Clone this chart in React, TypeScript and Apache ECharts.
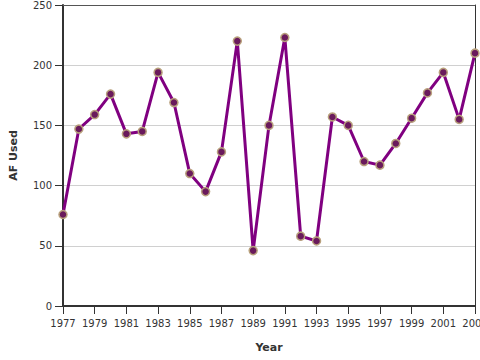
import React, { useEffect, useRef } from "react";
import * as echarts from "echarts";

const years = [1977, 1978, 1979, 1980, 1981, 1982, 1983, 1984, 1985, 1986, 1987, 1988, 1989, 1990, 1991, 1992, 1993, 1994, 1995, 1996, 1997, 1998, 1999, 2000, 2001, 2002, 2003];
const afUsed = [76, 147, 159, 176, 143, 145, 194, 169, 110, 95, 128, 220, 46, 150, 223, 58, 54, 157, 150, 120, 117, 135, 156, 177, 194, 155, 210];

export default function App() {
  const ref = useRef<HTMLDivElement>(null);
  useEffect(() => {
    document.body.style.margin = "0";
    const chart = echarts.init(ref.current!, null, { renderer: "svg" });
    const font = "DejaVu Sans";
    chart.setOption({
      animation: false,
      grid: { left: 63, right: 5, top: 5, bottom: 54, containLabel: false, outerBoundsMode: "none" },
      xAxis: [
        {
          type: "value",
          min: 1977,
          max: 2003,
          interval: 2,
          name: "Year",
          nameLocation: "middle",
          nameGap: 36,
          nameTextStyle: { fontFamily: font, fontSize: 11, fontWeight: "bold", color: "#333" },
          axisLine: { show: true, onZero: false, lineStyle: { color: "#333", width: 2 } },
          axisTick: { show: true, length: 8, lineStyle: { color: "#333", width: 1 } },
          axisLabel: {
            fontFamily: font,
            fontSize: 10,
            color: "#333",
            margin: 12,
            showMaxLabel: true,
            hideOverlap: false,
            formatter: (v: number) => String(v),
          },
          splitLine: { show: false },
        },
        {
          type: "value",
          position: "top",
          min: 1977,
          max: 2003,
          interval: 2,
          axisLine: { show: true, onZero: false, lineStyle: { color: "#555", width: 1 } },
          axisTick: { show: false },
          axisLabel: { show: false },
          splitLine: { show: false },
        },
      ],
      yAxis: [
        {
          type: "value",
          min: 0,
          max: 250,
          interval: 50,
          name: "AF Used",
          nameLocation: "middle",
          nameGap: 44,
          nameTextStyle: { fontFamily: font, fontSize: 11, fontWeight: "bold", color: "#333" },
          axisLine: { show: true, lineStyle: { color: "#333", width: 2 } },
          axisTick: { show: true, length: 8, lineStyle: { color: "#333", width: 1 } },
          axisLabel: { fontFamily: font, fontSize: 10, color: "#333", margin: 11 },
          splitLine: { show: true, lineStyle: { color: "#d0d0d0", width: 1 } },
        },
        {
          type: "value",
          position: "right",
          min: 0,
          max: 250,
          interval: 50,
          axisLine: { show: true, lineStyle: { color: "#333", width: 1 } },
          axisTick: { show: false },
          axisLabel: { show: false },
          splitLine: { show: false },
        },
      ],
      series: [
        {
          type: "line",
          xAxisIndex: 0,
          yAxisIndex: 0,
          data: years.map((y, i) => [y, afUsed[i]]),
          symbol: "circle",
          symbolSize: 8,
          lineStyle: { color: "#800080", width: 3 },
          itemStyle: { color: "#6a1a5c", borderColor: "#b8a07c", borderWidth: 1.5 },
          clip: false,
        },
      ],
    });
    return () => chart.dispose();
  }, []);
  return <div ref={ref} style={{ width: 480, height: 360 }} />;
}
